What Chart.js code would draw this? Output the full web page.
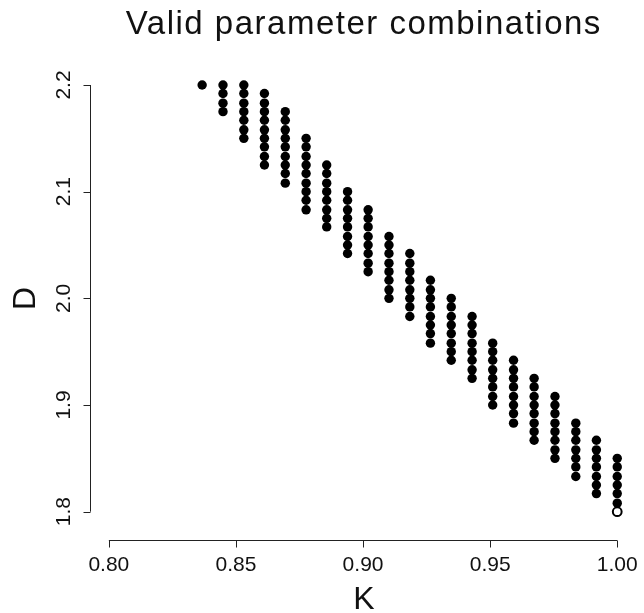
<!DOCTYPE html>
<html>
<head>
<meta charset="utf-8">
<script src="https://cdn.jsdelivr.net/npm/chart.js@4/dist/chart.umd.min.js"></script>
<style>
  html, body { margin: 0; padding: 0; background: #fff; }
  canvas { display: block; }
</style>
</head>
<body>
<canvas id="paramChart" width="644" height="613"></canvas>
<script>
// Valid (K, D) combinations - one column of D values per K

const kValues = [0.8367, 0.8449, 0.8531, 0.8612, 0.8694, 0.8776, 0.8857, 0.8939, 0.9020, 0.9102,
  0.9184, 0.9265, 0.9347, 0.9429, 0.9510, 0.9592, 0.9673, 0.9755, 0.9837, 0.9918, 1.0000];

const dByColumn = [
  [2.200],
  [2.200, 2.192, 2.183, 2.175],
  [2.200, 2.192, 2.183, 2.175, 2.167, 2.158, 2.150],
  [2.192, 2.183, 2.175, 2.167, 2.158, 2.150, 2.142, 2.133, 2.125],
  [2.175, 2.167, 2.158, 2.150, 2.142, 2.133, 2.125, 2.117, 2.108],
  [2.150, 2.142, 2.133, 2.125, 2.117, 2.108, 2.100, 2.092, 2.083],
  [2.125, 2.117, 2.108, 2.100, 2.092, 2.083, 2.075, 2.067],
  [2.100, 2.092, 2.083, 2.075, 2.067, 2.058, 2.050, 2.042],
  [2.083, 2.075, 2.067, 2.058, 2.050, 2.042, 2.033, 2.025],
  [2.058, 2.050, 2.042, 2.033, 2.025, 2.017, 2.008, 2.000],
  [2.042, 2.033, 2.025, 2.017, 2.008, 2.000, 1.992, 1.983],
  [2.017, 2.008, 2.000, 1.992, 1.983, 1.975, 1.967, 1.958],
  [2.000, 1.992, 1.983, 1.975, 1.967, 1.958, 1.950, 1.942],
  [1.983, 1.975, 1.967, 1.958, 1.950, 1.942, 1.933, 1.925],
  [1.958, 1.950, 1.942, 1.933, 1.925, 1.917, 1.908, 1.900],
  [1.942, 1.933, 1.925, 1.917, 1.908, 1.900, 1.892, 1.883],
  [1.925, 1.917, 1.908, 1.900, 1.892, 1.883, 1.875, 1.867],
  [1.908, 1.900, 1.892, 1.883, 1.875, 1.867, 1.858, 1.850],
  [1.883, 1.875, 1.867, 1.858, 1.850, 1.842, 1.833],
  [1.867, 1.858, 1.850, 1.842, 1.833, 1.825, 1.817],
  [1.850, 1.842, 1.833, 1.825, 1.817, 1.808]
];

// the single open circle
const openK = [1.0];
const openD = [1.8];

const xTicks = [0.80, 0.85, 0.90, 0.95, 1.00];
const xTickLabels = ['0.80', '0.85', '0.90', '0.95', '1.00'];
const yTicks = [1.8, 1.9, 2.0, 2.1, 2.2];
const yTickLabels = ['1.8', '1.9', '2.0', '2.1', '2.2'];

const FONT = '"Liberation Sans", Arial, Helvetica, sans-serif';

const filledPts = [];
kValues.forEach((k, j) => {
  dByColumn[j].forEach(d => filledPts.push({ x: k, y: d }));
});
const openPts = openK.map((k, i) => ({ x: k, y: openD[i] }));

// R style axes: lines only between first and last tick, outward ticks
const rAxes = {
  id: 'rAxes',
  afterDraw(chart) {
    const ctx = chart.ctx;
    const xs = chart.scales.x, ys = chart.scales.y;
    const area = chart.chartArea;
    ctx.save();
    ctx.strokeStyle = '#222';
    ctx.fillStyle = '#111';
    ctx.lineWidth = 1;

    // x axis
    const ay = Math.round(area.bottom) + 0.5;
    ctx.beginPath();
    ctx.moveTo(xs.getPixelForValue(xTicks[0]), ay);
    ctx.lineTo(xs.getPixelForValue(xTicks[xTicks.length - 1]), ay);
    xTicks.forEach(v => {
      const px = Math.round(xs.getPixelForValue(v)) + 0.5;
      ctx.moveTo(px, ay);
      ctx.lineTo(px, ay + 7);
    });
    ctx.stroke();
    ctx.font = '21px ' + FONT;
    ctx.textAlign = 'center';
    ctx.textBaseline = 'alphabetic';
    xTicks.forEach((v, i) => ctx.fillText(xTickLabels[i], xs.getPixelForValue(v), 571));

    // y axis
    const ax = Math.round(area.left) + 0.5;
    ctx.beginPath();
    ctx.moveTo(ax, ys.getPixelForValue(yTicks[0]));
    ctx.lineTo(ax, ys.getPixelForValue(yTicks[yTicks.length - 1]));
    yTicks.forEach(v => {
      const py = Math.round(ys.getPixelForValue(v)) + 0.5;
      ctx.moveTo(ax, py);
      ctx.lineTo(ax - 7, py);
    });
    ctx.stroke();
    yTicks.forEach((v, i) => {
      ctx.save();
      ctx.translate(70, ys.getPixelForValue(v));
      ctx.rotate(-Math.PI / 2);
      ctx.fillText(yTickLabels[i], 0, 0);
      ctx.restore();
    });

    // axis titles
    ctx.font = '32px ' + FONT;
    ctx.fillText('K', (area.left + area.right) / 2, 609);
    ctx.save();
    ctx.translate(35, (area.top + area.bottom) / 2);
    ctx.rotate(-Math.PI / 2);
    ctx.fillText('D', 0, 0);
    ctx.restore();

    // main title
    ctx.font = '33px ' + FONT;
    ctx.letterSpacing = '1.5px';
    ctx.fillText('Valid parameter combinations', (area.left + area.right) / 2, 34);
    ctx.restore();
  }
};

new Chart(document.getElementById('paramChart'), {
  type: 'scatter',
  data: {
    datasets: [
      {
        label: 'valid',
        data: filledPts,
        pointRadius: 4.7,
        pointBorderWidth: 0,
        pointBackgroundColor: '#000',
      },
      {
        label: 'open',
        data: openPts,
        pointRadius: 4.4,
        pointBorderWidth: 2,
        pointBorderColor: '#000',
        pointBackgroundColor: '#fff',
      }
    ]
  },
  options: {
    responsive: false,
    animation: false,
    devicePixelRatio: 1,
    layout: { padding: { left: 90, right: 2.5, top: 57, bottom: 73 } },
    plugins: {
      legend: { display: false },
      tooltip: { enabled: false }
    },
    scales: {
      x: { type: 'linear', display: false, min: 0.79258, max: 1.00801 },
      y: { type: 'linear', display: false, min: 1.77347, max: 2.22625 }
    }
  },
  plugins: [rAxes]
});
</script>
</body>
</html>
